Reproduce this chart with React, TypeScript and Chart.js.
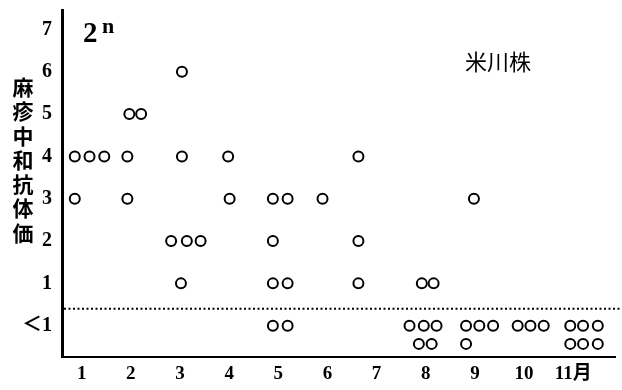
import React, { useEffect, useRef } from "react";
import { Chart, registerables } from "chart.js";

Chart.register(...registerables);

// Categories (months) and tick labels
const months = [1, 2, 3, 4, 5, 6, 7, 8, 9, 10, 11];
const monthLabels = ["1", "2", "3", "4", "5", "6", "7", "8", "9", "10", "11月"];
const titerTicks = [0, 1, 2, 3, 4, 5, 6, 7];
const titerTickLabels = ["＜1", "1", "2", "3", "4", "5", "6", "7"];

// Each array: horizontal positions (in month units) of individual sera at that titer (2^n)
const level6 = [3.04];
const level5 = [1.97, 2.21];
const level4 = [0.86, 1.16, 1.46, 1.93, 3.04, 3.98, 6.63];
const level3 = [0.86, 1.93, 4.01, 4.89, 5.19, 5.9, 8.98];
const level2 = [2.82, 3.14, 3.42, 4.89, 6.63];
const level1 = [3.02, 4.89, 5.19, 6.63, 7.92, 8.16];
const belowRow1 = [4.89, 5.19, 7.67, 7.96, 8.22, 8.82, 9.09, 9.37, 9.87, 10.13, 10.4, 10.94, 11.2, 11.5];
const belowRow2 = [7.86, 8.12, 8.82, 10.94, 11.2, 11.5];
const belowRow1Level = 0;
const belowRow2Level = -0.43;
const detectionLimitLevel = 0.4;

const yTitleChars = ["麻", "疹", "中", "和", "抗", "体", "価"];
const strainLabel = "米川株";

export default function App() {
  const ref = useRef<HTMLCanvasElement | null>(null);

  useEffect(() => {
    if (!ref.current) return;
    const pts = [
      ...level6.map((x) => ({ x, y: 6 })),
      ...level5.map((x) => ({ x, y: 5 })),
      ...level4.map((x) => ({ x, y: 4 })),
      ...level3.map((x) => ({ x, y: 3 })),
      ...level2.map((x) => ({ x, y: 2 })),
      ...level1.map((x) => ({ x, y: 1 })),
      ...belowRow1.map((x) => ({ x, y: belowRow1Level })),
      ...belowRow2.map((x) => ({ x, y: belowRow2Level })),
    ];

    const textPlugin = {
      id: "texts",
      afterDraw(chart: any) {
        const ctx = chart.ctx;
        const { chartArea, scales } = chart;
        ctx.save();
        // dotted detection-limit line
        const yl = scales.y.getPixelForValue(detectionLimitLevel);
        ctx.strokeStyle = "#000";
        ctx.lineWidth = 2;
        ctx.setLineDash([2, 2.5]);
        ctx.beginPath();
        ctx.moveTo(chartArea.left + 2, yl);
        ctx.lineTo(chart.width, yl);
        ctx.stroke();
        ctx.setLineDash([]);

        ctx.fillStyle = "#000";
        // vertical y title
        ctx.font = 'bold 21px "Noto Sans CJK JP"';
        ctx.textAlign = "center";
        ctx.textBaseline = "middle";
        yTitleChars.forEach((c, i) => {
          ctx.fillText(c, 23, 87 + i * 24.3);
        });
        // 2^n
        ctx.textAlign = "left";
        ctx.textBaseline = "alphabetic";
        ctx.font = 'bold 29px "Liberation Serif"';
        ctx.fillText("2", 83, 42);
        ctx.font = 'bold 22px "Liberation Serif"';
        ctx.fillText("n", 102, 33);
        // strain label
        ctx.font = '22px "Noto Sans CJK JP"';
        ctx.textAlign = "center";
        ctx.textBaseline = "middle";
        ctx.fillText(strainLabel, 498, 62);
        ctx.restore();
      },
    };

    const chart = new Chart(ref.current, {
      type: "scatter",
      data: {
        datasets: [
          {
            data: pts,
            pointStyle: "circle",
            pointRadius: 5,
            pointBorderWidth: 2,
            pointBorderColor: "#000",
            pointBackgroundColor: "#fff",
          },
        ],
      },
      options: {
        animation: false,
        responsive: false,
        devicePixelRatio: 1,
        layout: { padding: { top: 10, right: 2, left: 0, bottom: 0 } },
        plugins: { legend: { display: false }, tooltip: { enabled: false } },
        scales: {
          x: {
            type: "linear",
            min: 0.6,
            max: 11.85,
            afterBuildTicks: (scale: any) => {
              scale.ticks = months.map((v) => ({ value: v }));
            },
            afterFit: (scale: any) => {
              scale.height = 33;
              scale.paddingLeft = 0;
              scale.paddingRight = 0;
            },
            ticks: {
              autoSkip: false,
              maxRotation: 0,
              padding: 6,
              color: "#000",
              font: { family: '"Liberation Serif", "Noto Sans CJK JP"', size: 19, weight: "bold" },
              callback: (v: any) => monthLabels[months.indexOf(Number(v))] ?? "",
            },
            grid: { display: true, drawOnChartArea: false, drawTicks: false, color: "rgba(0,0,0,0)" },
            border: { display: true, width: 2, color: "#000" },
          },
          y: {
            type: "linear",
            min: -0.74,
            max: 7.46,
            afterBuildTicks: (scale: any) => {
              scale.ticks = titerTicks.map((v) => ({ value: v }));
            },
            afterFit: (scale: any) => {
              scale.width = 62;
              scale.paddingTop = 0;
              scale.paddingBottom = 0;
            },
            ticks: {
              autoSkip: false,
              padding: 10,
              color: "#000",
              font: { family: '"Liberation Serif", "Noto Sans CJK JP"', size: 20, weight: "bold" },
              callback: (v: any) => titerTickLabels[titerTicks.indexOf(Number(v))] ?? "",
            },
            grid: { display: true, drawOnChartArea: false, drawTicks: false, color: "rgba(0,0,0,0)" },
            border: { display: true, width: 3, color: "#000" },
          },
        },
      },
      plugins: [textPlugin],
    });
    return () => chart.destroy();
  }, []);

  return (
    <div style={{ position: "absolute", left: 0, top: 0, width: 622, height: 390, background: "#fff" }}>
      <canvas ref={ref} width={622} height={390} />
    </div>
  );
}
